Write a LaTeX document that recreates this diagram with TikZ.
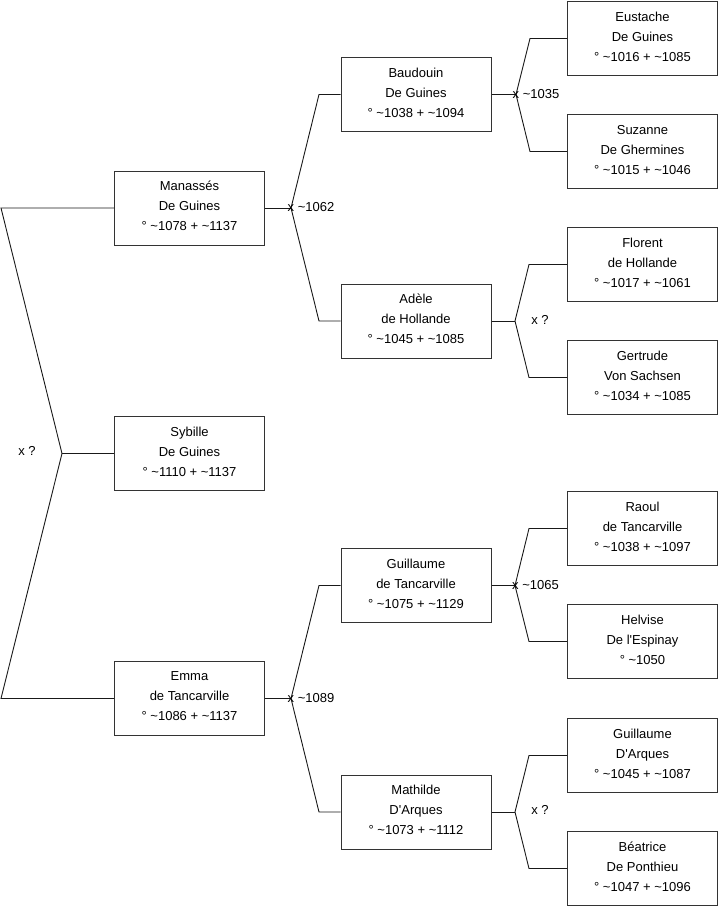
\documentclass[tikz,border=0pt]{standalone}
\usepackage{fontspec}
\setmainfont{Liberation Sans}[Ligatures=TeXOff]
\begin{document}
\begin{tikzpicture}[x=1pt,y=-1pt,
  person/.style={draw=black!80,line width=1pt,fill=white,minimum width=150pt,minimum height=74pt,inner sep=0pt,text depth=4pt,align=center,font=\fontsize{13}{20}\selectfont},
  link/.style={draw=black!90,line width=0.9pt},
  lbl/.style={inner sep=0pt,font=\fontsize{13}{16}\selectfont}]
\useasboundingbox (0,0) rectangle (719,908);
% level 1
\node[person] (man) at (189.5,208) {Manassés\\De Guines\\° \textasciitilde1078 + \textasciitilde1137};
\node[person] (syb) at (189.5,453.5) {Sybille\\De Guines\\° \textasciitilde1110 + \textasciitilde1137};
\node[person] (emma) at (189.5,698.5) {Emma\\de Tancarville\\° \textasciitilde1086 + \textasciitilde1137};
% level 2
\node[person] (bau) at (416,94.5) {Baudouin\\De Guines\\° \textasciitilde1038 + \textasciitilde1094};
\node[person] (ade) at (416,321) {Adèle\\de Hollande\\° \textasciitilde1045 + \textasciitilde1085};
\node[person] (gut) at (416,585.5) {Guillaume\\de Tancarville\\° \textasciitilde1075 + \textasciitilde1129};
\node[person] (mat) at (416,812) {Mathilde\\D'Arques\\° \textasciitilde1073 + \textasciitilde1112};
% level 3
\node[person] (eus) at (642.5,38.5) {Eustache\\De Guines\\° \textasciitilde1016 + \textasciitilde1085};
\node[person] (suz) at (642.5,151.5) {Suzanne\\De Ghermines\\° \textasciitilde1015 + \textasciitilde1046};
\node[person] (flo) at (642.5,264.5) {Florent\\de Hollande\\° \textasciitilde1017 + \textasciitilde1061};
\node[person] (ger) at (642.5,377.5) {Gertrude\\Von Sachsen\\° \textasciitilde1034 + \textasciitilde1085};
\node[person] (rao) at (642.5,528.5) {Raoul\\de Tancarville\\° \textasciitilde1038 + \textasciitilde1097};
\node[person] (hel) at (642.5,641.5) {Helvise\\De l'Espinay\\° \textasciitilde1050};
\node[person] (gua) at (642.5,755.5) {Guillaume\\D'Arques\\° \textasciitilde1045 + \textasciitilde1087};
\node[person] (bea) at (642.5,868.5) {Béatrice\\De Ponthieu\\° \textasciitilde1047 + \textasciitilde1096};
% junction coordinates
\coordinate (j0) at (62,453.5);
\coordinate (a0) at (1,208);
\coordinate (b0) at (1,698.5);
\coordinate (j1) at (291,208);
\coordinate (a1) at (319,94.5);
\coordinate (b1) at (319,321);
\coordinate (j2) at (291,698.5);
\coordinate (a2) at (319,585.5);
\coordinate (b2) at (319,812);
\coordinate (j3) at (516,94.5);
\coordinate (a3) at (530,38.5);
\coordinate (b3) at (530,151.5);
\coordinate (j4) at (515,321);
\coordinate (a4) at (529,264.5);
\coordinate (b4) at (529,377.5);
\coordinate (j5) at (515,585.5);
\coordinate (a5) at (529,528.5);
\coordinate (b5) at (529,641.5);
\coordinate (j6) at (515,812);
\coordinate (a6) at (529,755.5);
\coordinate (b6) at (529,868.5);
% connectors
\draw[link] (syb.west) -- (j0);
\draw[link] (man.west) -- (a0) -- (j0) -- (b0) -- (emma.west);
\draw[link] (man.east) -- (j1);
\draw[link] (bau.west) -- (a1) -- (j1) -- (b1) -- (ade.west);
\draw[link] (emma.east) -- (j2);
\draw[link] (gut.west) -- (a2) -- (j2) -- (b2) -- (mat.west);
\draw[link] (bau.east) -- (j3);
\draw[link] (eus.west) -- (a3) -- (j3) -- (b3) -- (suz.west);
\draw[link] (ade.east) -- (j4);
\draw[link] (flo.west) -- (a4) -- (j4) -- (b4) -- (ger.west);
\draw[link] (gut.east) -- (j5);
\draw[link] (rao.west) -- (a5) -- (j5) -- (b5) -- (hel.west);
\draw[link] (mat.east) -- (j6);
\draw[link] (gua.west) -- (a6) -- (j6) -- (b6) -- (bea.west);
% labels
\node[lbl] (l0) at (27,451) {x ?};
\node[lbl,anchor=west] (l1) at (287.5,207.5) {x \textasciitilde1062};
\node[lbl,anchor=west] (l2) at (287.5,698) {x \textasciitilde1089};
\node[lbl,anchor=west] (l3) at (512.5,94) {x \textasciitilde1035};
\node[lbl,anchor=west] (l5) at (512,585) {x \textasciitilde1065};
\node[lbl] (l4) at (540,320) {x ?};
\node[lbl] (l6) at (540,810) {x ?};
\end{tikzpicture}
\end{document}
